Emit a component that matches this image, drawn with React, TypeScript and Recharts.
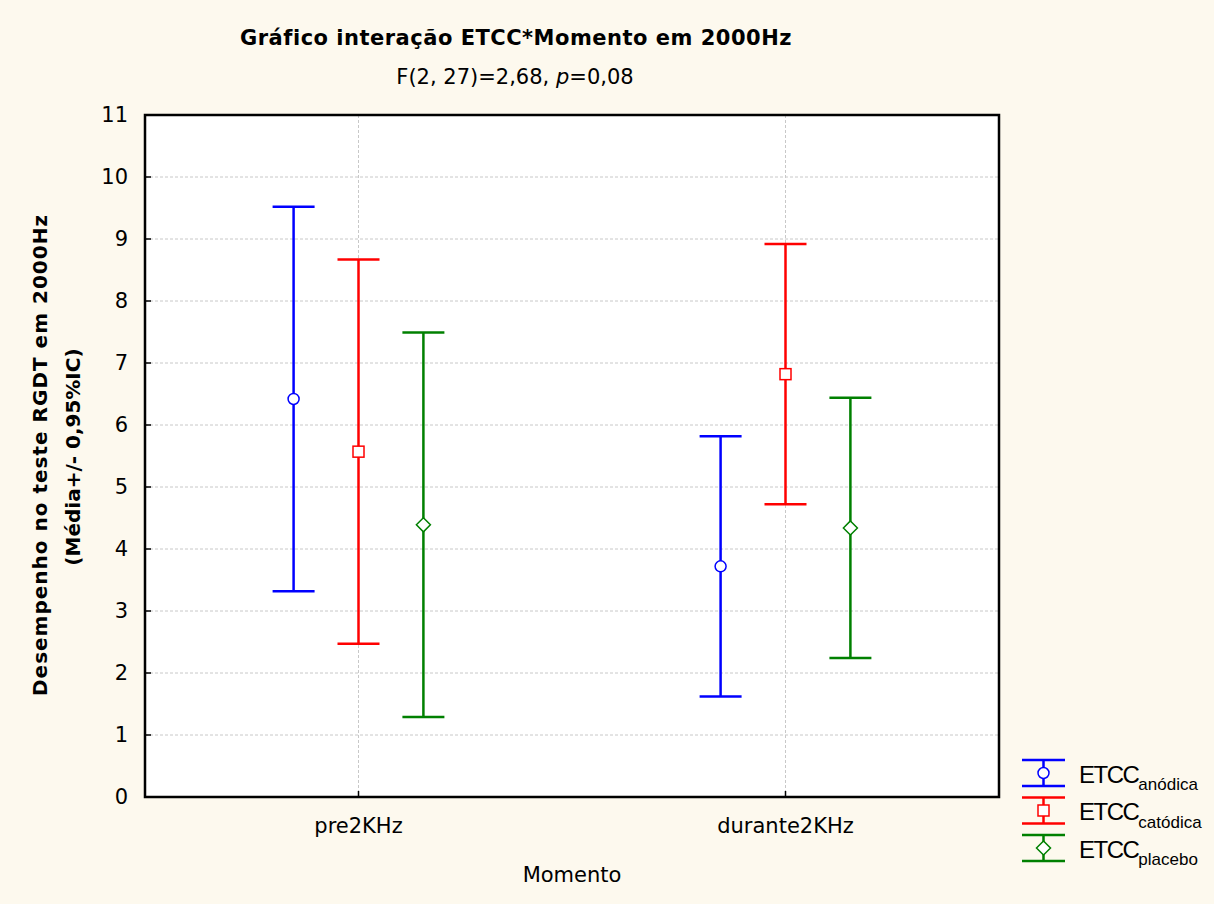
import {
  CartesianGrid,
  ComposedChart,
  Customized,
  ErrorBar,
  Label,
  Legend,
  ReferenceArea,
  Scatter,
  XAxis,
  YAxis,
} from "recharts";

// Momentos de avaliação (eixo X)
const momentos = ["pre2KHz", "durante2KHz"];

// Média e meia-largura do IC 95% por grupo, na ordem de `momentos`
const mediaAnodica = [6.42, 3.72];
const icAnodica = [3.1, 2.1];
const mediaCatodica = [5.57, 6.82];
const icCatodica = [3.1, 2.1];
const mediaPlacebo = [4.39, 4.34];
const icPlacebo = [3.1, 2.1];

const yTicks = [0, 1, 2, 3, 4, 5, 6, 7, 8, 9, 10, 11];

type Forma = "circle" | "square" | "diamond";

const grupos: { nome: string; cor: string; forma: Forma; media: number[]; ic: number[] }[] = [
  { nome: "anódica", cor: "#0000ff", forma: "circle", media: mediaAnodica, ic: icAnodica },
  { nome: "catódica", cor: "#ff0000", forma: "square", media: mediaCatodica, ic: icCatodica },
  { nome: "placebo", cor: "#008000", forma: "diamond", media: mediaPlacebo, ic: icPlacebo },
];

// deslocamento horizontal de cada grupo dentro do momento
const DESLOC = 0.152;

const series = grupos.map((g, gi) => ({
  ...g,
  data: momentos.map((m, mi) => ({
    momento: m,
    x: mi + 0.5 + (gi - 1) * DESLOC,
    y: g.media[mi],
    ic: [g.ic[mi], g.ic[mi]],
  })),
}));

const FONTE = "'DejaVu Sans', Verdana, sans-serif";
const FUNDO = "#fdf9ee";

function Marcador({ forma, cx, cy, cor }: { forma: Forma; cx: number; cy: number; cor: string }) {
  if (forma === "circle") {
    return <circle cx={cx} cy={cy} r={5.5} fill="#fff" stroke={cor} strokeWidth={1.5} />;
  }
  if (forma === "square") {
    return <rect x={cx - 5.5} y={cy - 5.5} width={11} height={11} fill="#fff" stroke={cor} strokeWidth={1.5} />;
  }
  const d = 7;
  return (
    <polygon
      points={`${cx},${cy - d} ${cx + d},${cy} ${cx},${cy + d} ${cx - d},${cy}`}
      fill="#fff"
      stroke={cor}
      strokeWidth={1.5}
    />
  );
}

function Titulos() {
  return (
    <g style={{ fontFamily: FONTE }}>
      <text x={516} y={45} textAnchor="middle" fontSize={21} fontWeight="bold" letterSpacing={0.5} fill="#000">
        Gráfico interação ETCC*Momento em 2000Hz
      </text>
      <text x={515} y={84} textAnchor="middle" fontSize={21} fill="#000">
        F(2, 27)=2,68, <tspan fontStyle="italic">p</tspan>=0,08
      </text>
    </g>
  );
}

function RotuloY() {
  return (
    <g style={{ fontFamily: FONTE }} fontWeight="bold" fontSize={20} fill="#000">
      <text transform="translate(47,455) rotate(-90)" textAnchor="middle" letterSpacing={1}>
        Desempenho no teste RGDT em 2000Hz
      </text>
      <text transform="translate(80,457) rotate(-90)" textAnchor="middle">
        (Média+/- 0,95%IC)
      </text>
    </g>
  );
}

function Legenda() {
  return (
    <svg width={195} height={120} style={{ display: "block" }}>
      {grupos.map((g, i) => {
        const cy = 23 + 37.5 * i;
        return (
          <g key={g.nome}>
            <line x1={7} x2={50} y1={cy - 13} y2={cy - 13} stroke={g.cor} strokeWidth={2.5} />
            <line x1={7} x2={50} y1={cy + 13} y2={cy + 13} stroke={g.cor} strokeWidth={2.5} />
            <line x1={28.5} x2={28.5} y1={cy - 13} y2={cy + 13} stroke={g.cor} strokeWidth={2.5} />
            <Marcador forma={g.forma} cx={28.5} cy={cy} cor={g.cor} />
            <text x={64} y={cy + 9.5} fill="#000" style={{ fontFamily: "'Liberation Sans', Arial, sans-serif" }}>
              <tspan fontSize={24} letterSpacing={-1.5}>ETCC</tspan>
              <tspan fontSize={17} dy={7.5}>{g.nome}</tspan>
            </text>
          </g>
        );
      })}
    </svg>
  );
}

export default function App() {
  return (
    <div style={{ position: "absolute", left: 0, top: 0, width: 1214, height: 904, background: FUNDO }}>
      <ComposedChart
        width={1214}
        height={904}
        margin={{ top: 115, right: 215, bottom: 7, left: 65 }}
        style={{ fontFamily: FONTE }}
      >
        <CartesianGrid fill="#fff" stroke="#c8c8c8" strokeDasharray="3 2" />
        <XAxis
          type="number"
          dataKey="x"
          domain={[0, 2]}
          ticks={[0.5, 1.5]}
          interval={0}
          tickFormatter={(v: number) => momentos[Math.floor(v)]}
          axisLine={false}
          tickLine={{ stroke: "#000", strokeWidth: 1.5 }}
          tickSize={-6}
          tickMargin={27}
          tick={{ fill: "#000", fontSize: 21 }}
          height={100}
        >
          <Label value="Momento" position="insideBottom" offset={15} fill="#000" fontSize={21} />
        </XAxis>
        <YAxis
          type="number"
          dataKey="y"
          domain={[0, 11]}
          ticks={yTicks}
          interval={0}
          axisLine={false}
          tickLine={{ stroke: "#000", strokeWidth: 1.5 }}
          tickSize={-6}
          tickMargin={23}
          tick={{ fill: "#000", fontSize: 21 }}
          width={80}
        />
        <ReferenceArea x1={0} x2={2} y1={0} y2={11} fill="none" stroke="#000" strokeWidth={2.5} ifOverflow="visible" />
        {series.map((s) => (
          <Scatter
            key={s.nome}
            name={s.nome}
            data={s.data}
            fill={s.cor}
            isAnimationActive={false}
            shape={(p: any) => <Marcador forma={s.forma} cx={p.cx} cy={p.cy} cor={s.cor} />}
          >
            <ErrorBar dataKey="ic" direction="y" width={21} stroke={s.cor} strokeWidth={2.5} />
          </Scatter>
        ))}
        <Legend
          layout="vertical"
          align="center"
          verticalAlign="middle"
          wrapperStyle={{ left: 1015, top: 750, width: 195 }}
          content={() => <Legenda />}
        />
        <Customized component={<Titulos />} />
        <Customized component={<RotuloY />} />
      </ComposedChart>
    </div>
  );
}
